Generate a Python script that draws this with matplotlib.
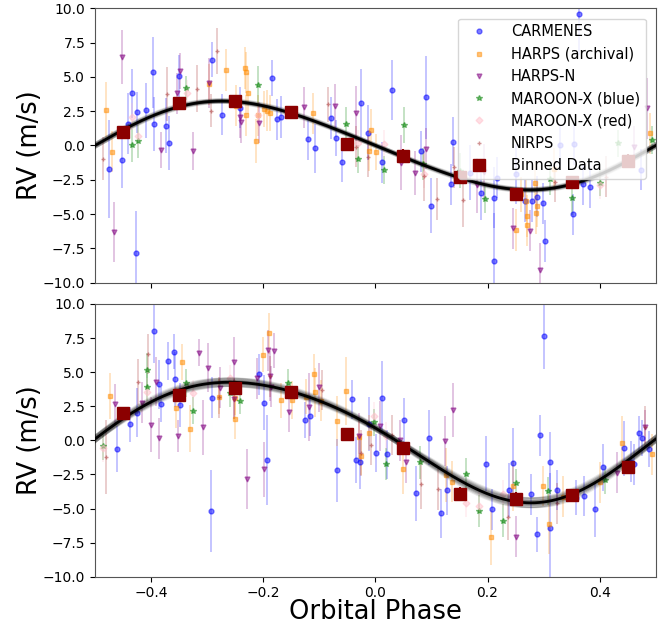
import numpy as np
import matplotlib
matplotlib.use("Agg")
import matplotlib.pyplot as plt

# ---------------- data (phase, RV [m/s], error [m/s]) ----------------
carm_top = [(-0.475,-1.71,3.6),(-0.452,-1.08,2.0),(-0.441,1.6,2.2),(-0.434,3.8,1.8),(-0.425,2.42,1.5),
            (-0.427,-7.8,3.0),(-0.409,2.56,2.0),(-0.396,5.33,2.6),(-0.394,1.57,2.0),(-0.374,1.45,2.0),
            (-0.368,0.18,2.0),(-0.351,5.07,1.5),(-0.291,6.26,1.3),(-0.274,2.25,1.5),(-0.241,2.76,1.5),
            (-0.185,4.9,1.3),(-0.176,1.91,1.5),(-0.169,2.08,1.5),(-0.121,0.45,1.5),(-0.107,-0.2,1.8),
            (-0.079,2.0,1.5),(-0.070,0.55,1.3),(-0.059,-1.18,1.5),(-0.025,3.08,2.5),(-0.013,0.94,2.0),
            (0.011,-1.23,1.5),(0.030,4.05,2.2),(0.082,-0.43,1.5),(0.091,3.5,3.0),(0.100,-4.39,2.0),
            (0.135,-2.83,1.5),(0.138,0.28,1.8),(0.168,-1.98,2.0),(0.189,-3.44,2.0),(0.211,-3.8,2.2),
            (0.211,-8.44,3.5),(0.217,-2.35,1.5),(0.251,-2.08,2.2),(0.267,-4.05,1.5),(0.280,-4.05,1.5),
            (0.288,-3.73,1.5),(0.299,-4.22,1.5),(0.302,-6.96,1.5),(0.330,0.0,1.5),(0.353,-5.0,1.5),
            (0.354,0.09,1.5),(0.363,9.6,3.0),(0.371,-2.83,1.5),(0.382,-3.02,1.5),(0.474,-1.78,1.5)]
harps_top = [(-0.481,2.6,2.0),(-0.469,-0.45,1.5),(-0.296,4.45,1.5),(-0.266,5.5,1.5),(-0.233,5.65,1.5),
             (-0.230,5.35,1.5),(-0.227,3.8,1.5),(-0.231,2.2,1.5),(-0.248,2.9,1.5),(-0.213,0.35,1.6),
             (-0.209,2.2,1.5),(-0.198,2.65,1.3),(-0.194,2.55,1.5),(-0.188,2.35,1.3),(-0.111,2.35,1.5),
             (-0.008,1.13,1.5),(-0.011,-0.38,1.5),(0.001,-0.45,1.3),(0.250,-6.16,1.5),(0.260,-3.56,1.3),
             (0.269,-4.02,1.5),(0.270,-5.14,1.5),(0.271,-5.8,1.5),(0.284,-2.7,1.5),(0.286,-4.94,1.5),
             (0.289,-4.41,1.5),(0.318,-1.71,1.5),(0.490,0.89,1.5)]
harpsn_top = [(-0.466,-6.3,2.2),(-0.452,6.45,2.0),(-0.382,-0.35,1.3),(-0.354,3.8,1.5),(-0.348,5.45,1.3),
              (-0.325,-0.4,1.4),(-0.297,4.55,1.8),(-0.241,2.05,1.5),(-0.240,1.7,1.5),(-0.207,1.65,1.5),
              (-0.127,2.8,1.5),(-0.072,2.88,1.6),(-0.035,2.35,2.0),(0.045,-1.25,2.0),(0.071,-1.98,1.6),
              (0.091,-0.23,1.5),(0.182,-2.9,2.0),(0.194,-1.91,2.0),(0.246,-6.04,1.5),(0.276,-6.2,1.5),
              (0.294,-9.1,2.0),(0.462,-0.11,1.5),(0.484,2.71,2.2)]
maroonb_top = [(-0.434,0.0,1.2),(-0.423,0.3,1.2),(-0.337,4.2,0.9),(-0.209,4.4,1.4),(-0.053,1.54,1.3),
               (-0.031,-1.0,1.0),(0.015,-1.78,1.0),(0.051,1.5,1.3),(0.085,-1.35,1.2),(0.150,-1.83,1.3),
               (0.196,-3.9,1.0),(0.312,-2.42,1.2),(0.350,-3.85,1.2),(0.401,-2.71,1.0),(0.433,0.16,1.0),
               (0.493,0.4,1.0)]
maroonr_top = [(-0.434,2.1,1.0),(-0.423,0.7,1.0),(-0.336,3.8,1.0),(-0.209,2.2,1.0),(-0.031,0.16,1.0),
               (0.015,0.11,1.0),(0.086,-2.1,1.0),(0.401,-2.88,1.0)]
nirps_top = [(-0.486,-0.95,1.6),(-0.372,3.75,2.0),(-0.318,4.15,1.7),(-0.294,2.55,1.2),(-0.283,6.9,1.7),
             (-0.084,3.0,1.3),(-0.035,-0.09,1.5),(-0.014,-0.81,1.5),(0.087,-2.22,1.8),(0.110,-3.9,1.5),
             (0.140,-1.59,1.5),(0.156,-3.97,2.0),(0.321,-2.64,1.5),(0.412,-2.27,1.5)]

carm_bot = [(-0.461,-0.64,1.7),(-0.438,1.17,1.3),(-0.426,2.03,1.8),(-0.395,8.04,2.4),(-0.385,4.1,1.8),
            (-0.382,2.64,1.3),(-0.369,5.79,1.4),(-0.360,6.5,1.3),(-0.358,4.47,2.0),(-0.348,2.59,1.6),
            (-0.293,-5.16,3.0),(-0.291,3.13,1.5),(-0.207,4.84,1.5),(-0.199,2.76,2.0),(-0.194,-1.44,3.3),
            (-0.125,1.49,1.3),(-0.116,1.81,1.5),(-0.069,-2.2,2.3),(-0.041,3.0,1.4),(-0.034,-1.44,1.7),
            (-0.027,-1.56,2.0),(-0.012,1.2,2.0),(0.001,-0.9,1.4),(0.011,3.13,2.7),(0.020,-1.03,1.8),
            (0.051,1.49,1.6),(0.073,-3.89,2.0),(0.096,0.19,2.0),(0.117,-5.35,1.8),(0.128,-3.67,1.8),
            (0.197,-1.71,2.0),(0.208,-5.04,1.5),(0.239,-3.64,2.0),(0.246,-1.69,2.6),(0.277,-3.96,1.5),
            (0.288,-6.89,1.3),(0.293,0.36,1.5),(0.301,7.65,2.4),(0.311,-1.59,2.2),(0.311,-6.41,4.0),
            (0.324,-3.64,1.5),(0.358,-4.2,1.3),(0.372,-4.08,1.5),(0.391,-5.06,2.0),(0.406,-1.98,1.7),
            (0.443,-0.59,2.0),(0.455,-1.56,1.5),(0.461,-1.76,1.5),(0.470,0.51,1.3),(0.475,0.17,1.3),
            (0.488,-0.64,1.3)]
harps_bot = [(-0.474,3.23,1.7),(-0.356,2.4,1.5),(-0.345,5.74,1.3),(-0.330,0.86,1.7),(-0.279,3.2,1.3),
             (-0.251,1.59,1.5),(-0.250,3.13,1.3),(-0.200,6.28,1.3),(-0.189,7.85,1.5),(-0.169,2.93,1.3),
             (-0.148,2.96,1.4),(-0.124,3.2,1.3),(-0.110,4.84,1.5),(-0.107,3.52,1.8),(-0.097,2.89,1.5),
             (-0.069,1.42,1.8),(-0.052,3.62,2.5),(-0.029,0.27,1.3),(-0.025,-1.15,1.4),(-0.011,0.56,1.3),
             (0.049,-2.13,1.8),(0.126,-2.54,2.0),(0.137,-3.03,1.5),(0.207,-7.11,2.0),(0.245,-3.35,1.8),
             (0.299,-3.35,1.5),(0.309,-6.16,2.2),(0.334,-4.13,1.5),(0.400,-3.08,1.5),(0.440,-0.22,2.0),
             (0.493,-1.03,1.5)]
harpsn_bot = [(-0.465,2.64,1.5),(-0.417,2.76,1.5),(-0.400,1.15,2.0),(-0.392,4.3,1.8),(-0.385,0.15,1.5),
              (-0.352,0.32,1.2),(-0.314,6.43,1.0),(-0.307,0.95,2.0),(-0.298,5.33,1.8),(-0.278,3.86,1.5),
              (-0.253,5.77,1.8),(-0.252,3.03,1.5),(-0.229,-2.86,2.2),(-0.211,4.55,1.5),(-0.199,-2.13,2.0),
              (-0.192,6.62,1.5),(-0.188,4.72,1.8),(-0.180,6.57,1.3),(-0.187,3.94,1.5),(-0.154,2.1,1.5),
              (-0.118,2.47,2.5),(-0.101,3.89,1.8),(-0.029,0.34,1.7),(0.008,1.05,1.8),(0.043,0.0,1.5),
              (0.055,-1.61,1.5),(0.125,-0.05,1.8),(0.139,2.22,2.0),(0.251,-7.07,1.5),(0.431,-2.37,1.5),
              (0.480,1.0,1.2)]
maroonb_bot = [(-0.486,-0.42,1.0),(-0.407,5.13,1.3),(-0.407,3.91,1.0),(-0.338,4.2,1.0),(-0.326,2.18,1.0),
               (-0.259,3.45,1.0),(-0.241,2.91,1.0),(-0.155,4.23,1.0),(-0.002,1.32,1.0),(0.019,-1.74,1.2),
               (0.080,-1.61,1.2),(0.162,-2.47,1.2),(0.184,-5.18,1.2),(0.228,-5.89,1.2),(0.250,-3.1,1.0),
               (0.308,-3.72,1.0),(0.410,-2.91,1.0)]
maroonr_bot = [(-0.486,-0.59,1.0),(-0.407,3.57,1.0),(-0.326,3.45,1.0),(-0.259,4.55,1.0),(-0.002,1.78,1.0),
               (0.019,0.34,1.0),(0.162,-4.62,1.0),(0.184,-4.82,1.0),(0.228,-3.94,1.0)]
nirps_bot = [(-0.480,-1.2,2.7),(-0.423,4.3,1.7),(-0.405,6.33,1.5),(-0.279,3.15,1.5),(-0.253,3.04,1.5),
             (-0.188,4.7,1.5),(-0.095,3.69,1.5),(-0.025,-0.95,1.7),(-0.007,-0.34,1.5),(0.030,0.39,1.5),
             (0.081,-3.23,1.8),(0.112,-3.6,1.5),(0.237,-5.6,1.7),(0.324,-4.62,1.5),(0.480,1.0,1.5)]

bin_phase = [-0.45, -0.35, -0.25, -0.15, -0.05, 0.05, 0.15, 0.25, 0.35, 0.45]
bin_top = [1.0, 3.1, 3.25, 2.45, 0.12, -0.73, -2.26, -3.57, -2.68, -1.1]
bin_bot = [2.03, 3.3, 3.86, 3.54, 0.44, -0.56, -3.9, -4.27, -4.03, -1.95]
bin_err = 0.45

# model coefficients (c0, a1 sin, b1 cos, a2 sin2, b2 cos2)
model_top = (0.0, -3.2, 0.0, 0.25, 0.0)
model_bot = (0.19, -4.375, 0.4, 0.3, 0.31)

instruments = ["CARMENES", "HARPS (archival)", "HARPS-N", "MAROON-X (blue)", "MAROON-X (red)", "NIRPS"]
colors = ["blue", "darkorange", "purple", "green", "pink", "brown"]
markers = ["o", "s", "v", "*", "D", "+"]

top_sets = [carm_top, harps_top, harpsn_top, maroonb_top, maroonr_top, nirps_top]
bot_sets = [carm_bot, harps_bot, harpsn_bot, maroonb_bot, maroonr_bot, nirps_bot]


def model(coef, ph, scale=1.0, shift=0.0):
    c0, a1, b1, a2, b2 = coef
    t = 2 * np.pi * (ph - shift)
    return c0 + scale * (a1 * np.sin(t) + b1 * np.cos(t) + a2 * np.sin(2 * t) + b2 * np.cos(2 * t))


fig = plt.figure(figsize=(6.7, 6.3), dpi=100)
ax1 = fig.add_axes([0.1418, 0.5513, 0.837, 0.4355])
ax2 = fig.add_axes([0.1418, 0.0846, 0.837, 0.4329])

phgrid = np.linspace(-0.5, 0.5, 400)

for ax, sets, coef, bins, scales in [(ax1, top_sets, model_top, bin_top, [0.96, 0.98, 1.0, 1.02, 1.04]),
                                     (ax2, bot_sets, model_bot, bin_bot, [0.93, 0.96, 0.98, 1.0, 1.02, 1.04, 1.07])]:
    for data, lab, c, m in zip(sets, instruments, colors, markers):
        ph = [d[0] for d in data]
        rv = [d[1] for d in data]
        er = [d[2] for d in data]
        ax.errorbar(ph, rv, yerr=er, fmt="none", ecolor=c, alpha=0.25, elinewidth=1.3, zorder=1)
        ms = 4.2 if m == "*" else 3.5
        ax.plot(ph, rv, linestyle="none", marker=m, color=c, ms=ms, alpha=0.5, label=lab, zorder=2)
    for s in scales:
        for sh in [-0.008, -0.004, 0.0, 0.004, 0.008]:
            ax.plot(phgrid, model(coef, phgrid, s, sh), color="black", alpha=0.09, lw=1.2, zorder=3)
    ax.plot(phgrid, model(coef, phgrid), color="black", lw=2.0, zorder=3)
    ax.errorbar(bin_phase, bins, yerr=bin_err, fmt="none", ecolor="darkred", elinewidth=1.5, zorder=4)
    ax.plot(bin_phase, bins, linestyle="none", marker="s", color="darkred", ms=8, label="Binned Data", zorder=5)
    ax.set_xlim(-0.5, 0.5)
    ax.set_ylim(-10, 10)
    ax.set_yticks(np.arange(-10, 10.1, 2.5))
    ax.set_xticks([-0.4, -0.2, 0.0, 0.2, 0.4])
    ax.tick_params(labelsize=10)
    ax.set_ylabel("RV (m/s)", fontsize=18.5, labelpad=0)
    for sp in ax.spines.values():
        sp.set_color("#555555")

ax1.set_xticklabels([])
ax2.set_xlabel("Orbital Phase", fontsize=18.5, labelpad=-1)

ax1.legend(loc="upper right", fontsize=10.5, labelspacing=0.5, framealpha=0.8,
           handletextpad=1.2, borderaxespad=0.7)

fig.savefig("out.png", dpi=100)
